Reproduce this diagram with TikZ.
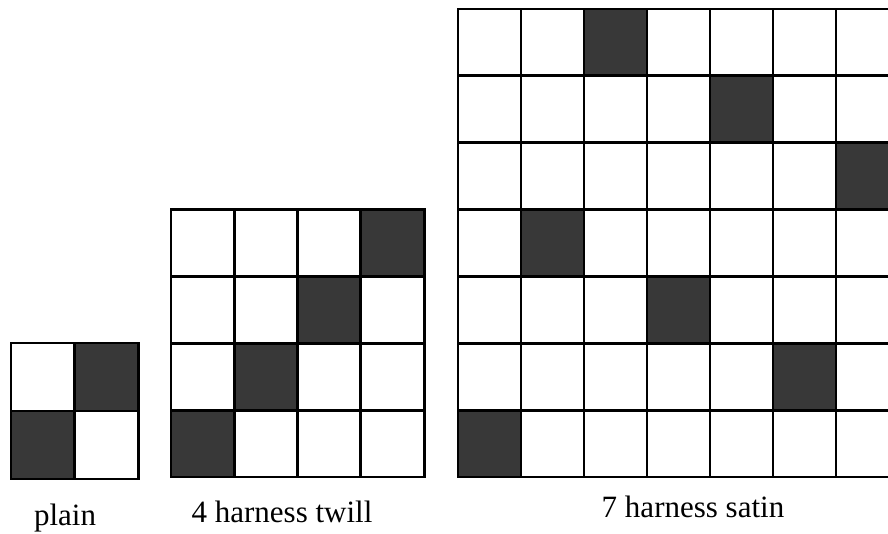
\documentclass[tikz,border=0pt]{standalone}
\usepackage{fontspec}
\setmainfont{Liberation Serif}
\definecolor{cellgray}{HTML}{383838}
\begin{document}
\begin{tikzpicture}[x=1pt,y=1pt,
  cellline/.style={line width=2.9pt, draw=black, line join=miter},
  darkcell/.style={fill=cellgray},
  lbl/.style={font=\fontsize{31}{36}\selectfont, anchor=base, inner sep=0pt}]
\useasboundingbox (0,0) rectangle (888,534);
\clip (0,0) rectangle (888,534);
\fill[white] (0,0) rectangle (888,534);
% plain
\begin{scope}[shift={(11,55)}, x=63.6pt, y=68pt]
  \foreach \c/\r in {1/1,0/0} \fill[darkcell] (\c,\r) rectangle ++(1,1);
  \foreach \c in {0,1} \foreach \r in {0,1} \draw[cellline] (\c,\r) rectangle ++(1,1);
\end{scope}
% twill
\begin{scope}[shift={(171,57)}, x=63.3pt, y=66.8pt]
  \foreach \c/\r in {3/3,2/2,1/1,0/0} \fill[darkcell] (\c,\r) rectangle ++(1,1);
  \foreach \c in {0,...,3} \foreach \r in {0,...,3} \draw[cellline] (\c,\r) rectangle ++(1,1);
\end{scope}
% satin
\begin{scope}[shift={(458,57)}, x=63pt, y=66.86pt]
  \foreach \c/\r in {2/6,4/5,6/4,1/3,3/2,5/1,0/0} \fill[darkcell] (\c,\r) rectangle ++(1,1);
  \foreach \c in {0,...,6} \foreach \r in {0,...,6} \draw[cellline] (\c,\r) rectangle ++(1,1);
\end{scope}
\node[lbl] (plainlbl) at (65,8.3) {plain};
\node[lbl] (twilllbl) at (282,11) {4 harness twill};
\node[lbl] (satinlbl) at (693,16) {7 harness satin};
\end{tikzpicture}
\end{document}
